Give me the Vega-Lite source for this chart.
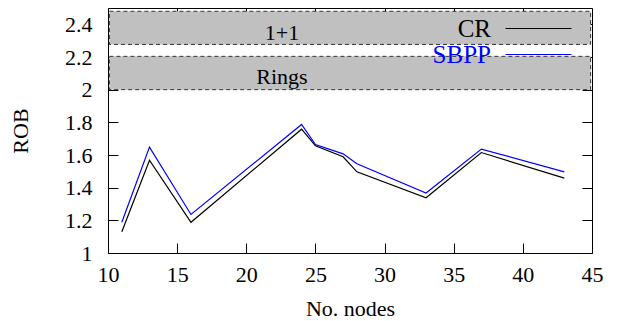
{
  "$schema": "https://vega.github.io/schema/vega-lite/v6.json",
  "autosize": {"type": "none"},
  "width": 484,
  "height": 245,
  "padding": {"left": 108, "top": 8, "right": 25, "bottom": 68},
  "background": "white",
  "config": {
    "view": {"stroke": "black", "strokeWidth": 1},
    "font": "Liberation Serif",
    "axis": {
      "labelFont": "Liberation Serif",
      "titleFont": "Liberation Serif",
      "labelFontSize": 22,
      "titleFontSize": 22,
      "titleFontWeight": "normal",
      "labelColor": "black",
      "titleColor": "black",
      "tickColor": "black",
      "labelFlush": false,
      "grid": false,
      "domain": false,
      "ticks": true,
      "tickSize": -10,
      "tickWidth": 1
    }
  },
  "datasets": {
    "series": [
      {"nodes": 11, "rob": 1.13, "method": "CR"},
      {"nodes": 13, "rob": 1.568, "method": "CR"},
      {"nodes": 16, "rob": 1.188, "method": "CR"},
      {"nodes": 24, "rob": 1.758, "method": "CR"},
      {"nodes": 25, "rob": 1.656, "method": "CR"},
      {"nodes": 27, "rob": 1.589, "method": "CR"},
      {"nodes": 28, "rob": 1.497, "method": "CR"},
      {"nodes": 33, "rob": 1.338, "method": "CR"},
      {"nodes": 37, "rob": 1.615, "method": "CR"},
      {"nodes": 43, "rob": 1.458, "method": "CR"},
      {"nodes": 11, "rob": 1.188, "method": "SBPP"},
      {"nodes": 13, "rob": 1.648, "method": "SBPP"},
      {"nodes": 16, "rob": 1.236, "method": "SBPP"},
      {"nodes": 24, "rob": 1.787, "method": "SBPP"},
      {"nodes": 25, "rob": 1.664, "method": "SBPP"},
      {"nodes": 27, "rob": 1.607, "method": "SBPP"},
      {"nodes": 28, "rob": 1.546, "method": "SBPP"},
      {"nodes": 33, "rob": 1.367, "method": "SBPP"},
      {"nodes": 37, "rob": 1.636, "method": "SBPP"},
      {"nodes": 43, "rob": 1.497, "method": "SBPP"}
    ],
    "bands": [
      {"name": "1+1", "x1": 10.1, "x2": 44.9, "y1": 2.277, "y2": 2.48, "tx": 22.58, "ty": 2.345},
      {"name": "Rings", "x1": 10.1, "x2": 44.9, "y1": 2.0, "y2": 2.204, "tx": 22.58, "ty": 2.075}
    ]
  },
  "resolve": {"axis": {"x": "independent", "y": "independent"}},
  "layer": [
    {
      "data": {"name": "bands"},
      "mark": {"type": "rect", "fill": "#c0c0c0", "stroke": "#333333", "strokeWidth": 1, "strokeDash": [4, 3]},
      "encoding": {
        "x": {"field": "x1", "type": "quantitative", "scale": {"domain": [10, 45], "nice": false, "zero": false},
          "axis": {"orient": "top", "labels": false, "title": null, "values": [15, 20, 25, 30, 35, 40]}},
        "x2": {"field": "x2"},
        "y": {"field": "y1", "type": "quantitative", "scale": {"domain": [1, 2.5], "nice": false, "zero": false},
          "axis": {"orient": "right", "labels": false, "title": null, "values": [1.2, 1.4, 1.6, 1.8, 2, 2.2, 2.4]}},
        "y2": {"field": "y2"}
      }
    },
    {
      "data": {"name": "bands"},
      "mark": {"type": "text", "font": "Liberation Serif", "fontSize": 22, "color": "black", "baseline": "middle", "align": "center"},
      "encoding": {
        "x": {"field": "tx", "type": "quantitative", "axis": null},
        "y": {"field": "ty", "type": "quantitative", "axis": null},
        "text": {"field": "name"}
      }
    },
    {
      "data": {"name": "series"},
      "mark": {"type": "line", "strokeWidth": 1.2},
      "encoding": {
        "x": {"field": "nodes", "type": "quantitative",
          "axis": {"orient": "bottom", "title": "No. nodes", "values": [10, 15, 20, 25, 30, 35, 40, 45], "format": "d", "labelPadding": 21, "titlePadding": 13}},
        "y": {"field": "rob", "type": "quantitative",
          "axis": {"orient": "left", "title": "ROB", "values": [1, 1.2, 1.4, 1.6, 1.8, 2, 2.2, 2.4], "format": "~g", "labelPadding": 26,
            "titleX": -88, "titleAlign": "center", "titleBaseline": "middle"}},
        "color": {
          "field": "method", "type": "nominal",
          "scale": {"domain": ["CR", "SBPP"], "range": ["#000000", "#0000ff"]},
          "legend": {
            "title": null,
            "orient": "none",
            "legendX": 418,
            "legendY": 8,
            "symbolType": "M-5,0H5",
            "symbolSize": 174,
            "symbolStrokeWidth": 1.2,
            "labelFont": "Liberation Serif",
            "labelFontSize": 25,
            "labelAlign": "right",
            "labelOffset": -60,
            "rowPadding": 0,
            "padding": 0,
            "encode": {
              "labels": {"update": {"fill": {"signal": "datum.label === 'SBPP' ? '#0000ff' : '#000000'"}}}
            }
          }
        }
      }
    }
  ]
}
